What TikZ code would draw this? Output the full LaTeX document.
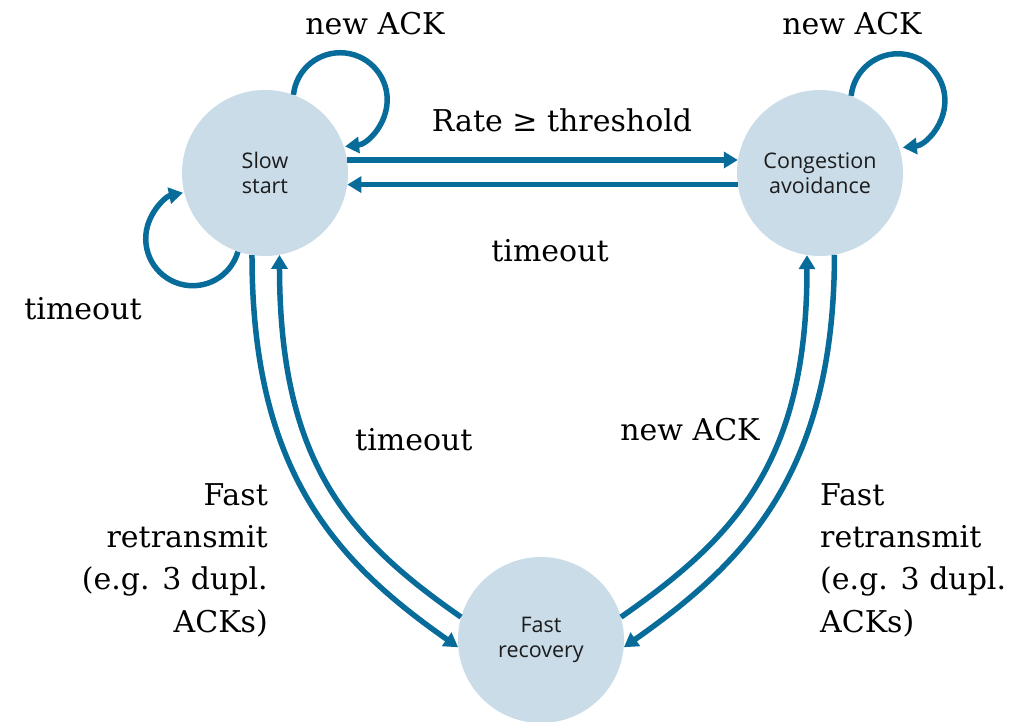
\documentclass[tikz,border=0pt]{standalone}
\usepackage{fontspec}
\setmainfont{DejaVu Serif}
\newfontfamily\statefont{Open Sans}
\usetikzlibrary{arrows.meta}
\definecolor{edgeblue}{RGB}{8,108,155}
\definecolor{statefill}{RGB}{201,220,232}
\definecolor{statetext}{RGB}{28,28,28}
\begin{document}
\begin{tikzpicture}[x=1pt,y=1pt,
  state/.style={circle,fill=statefill,minimum size=166pt,inner sep=0pt,align=center,
    font=\statefont\fontsize{21.5}{25.5}\selectfont,text=statetext},
  trans/.style={draw=edgeblue,line width=5.5pt,-{Triangle[length=14pt,width=16pt]}},
  lbl/.style={font=\fontsize{30}{42.3}\selectfont,inner sep=0pt}]
\useasboundingbox (0,0) rectangle (1030,721);
\clip (0,0) rectangle (1030,721);

% states
\node[state] (ss) at (265,548) {Slow\\start};
\node[state] (ca) at (820,548) {Congestion\\avoidance};
\node[state] (fr) at (541,81) {Fast\\recovery};

% self loops
\draw[trans] (ss.70) arc[start angle=174,end angle=-84,radius=47];
\draw[trans] (ca.68) arc[start angle=174,end angle=-84,radius=47];
\draw[trans] (ss.251) arc[start angle=-16,end angle=-258,radius=47];

% slow start <-> congestion avoidance
\draw[trans] (ss.9) -- (ca.171);
\draw[trans] (ca.188) -- (ss.-8);

% slow start <-> fast recovery
\draw[trans] (ss.261) .. controls (252,250) and (335,160) .. (fr.185);
\draw[trans] (fr.164) .. controls (346,184) and (280,260) .. (ss.280);

% congestion avoidance <-> fast recovery
\draw[trans] (ca.280) .. controls (834,250) and (747,160) .. (fr.355);
\draw[trans] (fr.16) .. controls (736,184) and (807,260) .. (ca.261);

% labels
\node[lbl,anchor=base] (l1) at (375,686) {new ACK};
\node[lbl,anchor=base] (l2) at (852,686) {new ACK};
\node[lbl,anchor=base] (l3) at (562,589) {Rate ≥ threshold};
\node[lbl,anchor=base] (l4) at (550,459) {timeout};
\node[lbl,anchor=base] (l5) at (83,401) {timeout};
\node[lbl,anchor=base west] (l6) at (355,271) {timeout};
\node[lbl,anchor=base] (l7) at (690,281) {new ACK};
\node[lbl,anchor=base east,align=right] (l8) at (268,89) {Fast\\retransmit\\(e.g. 3 dupl.\\ACKs)};
\node[lbl,anchor=base west,align=left] (l9) at (820,89) {Fast\\retransmit\\(e.g. 3 dupl.\\ACKs)};
\end{tikzpicture}
\end{document}
